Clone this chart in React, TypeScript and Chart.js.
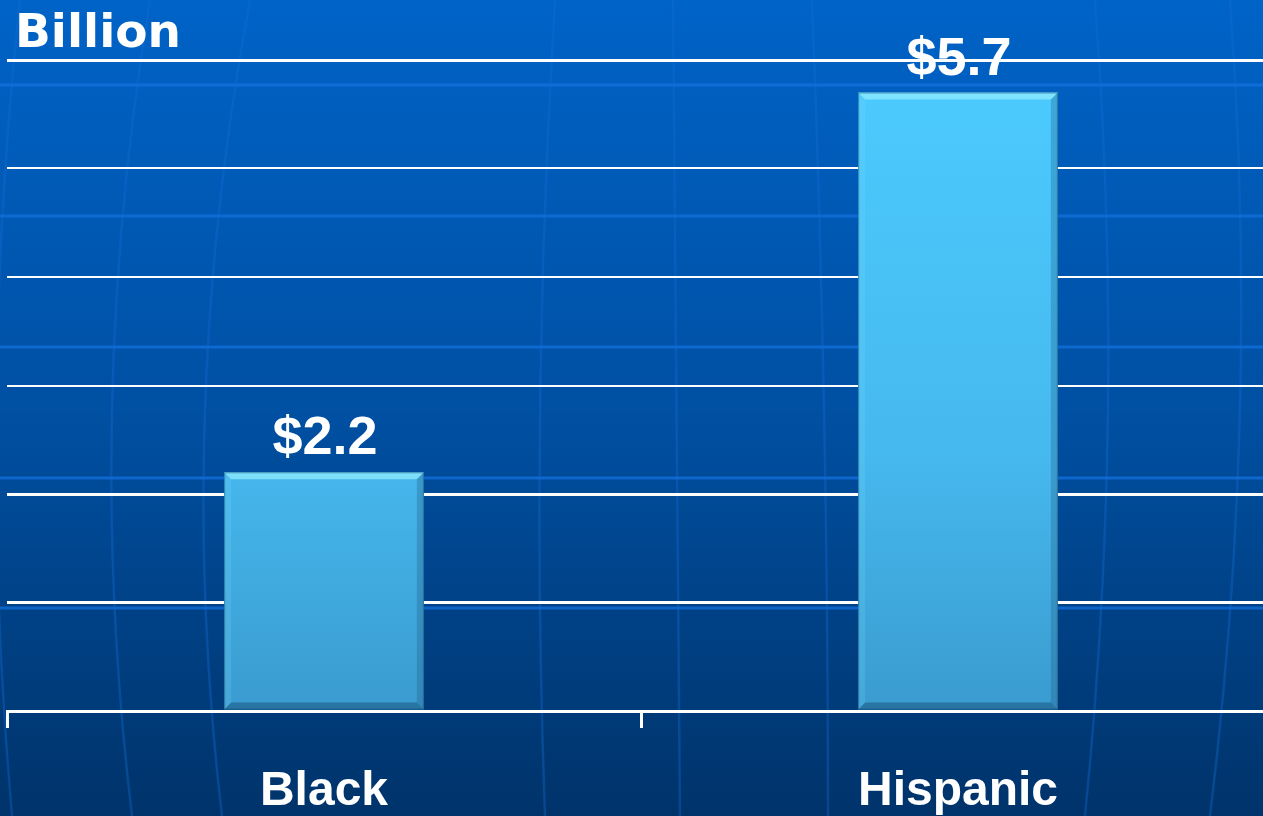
import React, { useEffect, useRef } from "react";
import { Chart, registerables } from "chart.js";

Chart.register(...registerables);

const categories = ["Black", "Hispanic"];
const values = [2.2, 5.7];
const valueLabels = ["$2.2", "$5.7"];
const yMin = 0;
const yMax = 6;
const yStep = 1;
const unitLabel = "Billion";

const W = 1290;
const H = 816;

const backgroundPlugin = {
  id: "globeBackground",
  beforeDraw(chart: any) {
    const { ctx, width, height } = chart;
    ctx.save();
    const g = ctx.createLinearGradient(0, 0, 0, height);
    g.addColorStop(0, "#0063C7");
    g.addColorStop(0.5, "#0050A3");
    g.addColorStop(1, "#00336A");
    ctx.fillStyle = g;
    ctx.fillRect(0, 0, width, height);
    // faint globe latitudes
    ctx.strokeStyle = "rgba(20,115,225,0.7)";
    ctx.lineWidth = 3;
    [85, 216, 347, 478, 608].forEach((y) => {
      ctx.beginPath();
      ctx.moveTo(0, y);
      ctx.lineTo(width, y);
      ctx.stroke();
    });
    // faint globe meridians
    ctx.strokeStyle = "rgba(20,110,215,0.35)";
    ctx.lineWidth = 2.5;
    const meridians = [
      [20, -4, 12],
      [150, 112, 132],
      [250, 205, 222],
      [555, 540, 545],
      [673, 676, 680],
      [812, 824, 828],
      [1095, 1108, 1085],
      [1230, 1240, 1210],
    ];
    meridians.forEach(([a, b, c]) => {
      ctx.beginPath();
      ctx.moveTo(a, 0);
      ctx.quadraticCurveTo(b * 2 - (a + c) / 2, height / 2, c, height);
      ctx.stroke();
    });
    ctx.restore();
  },
};

const bevelPlugin = {
  id: "barBevel",
  afterDatasetsDraw(chart: any) {
    const { ctx } = chart;
    const meta = chart.getDatasetMeta(0);
    ctx.save();
    meta.data.forEach((el: any) => {
      const l = el.x - el.width / 2;
      const r = el.x + el.width / 2;
      const t = el.y;
      const b = el.base;
      const s = 7;
      ctx.fillStyle = "rgba(150,240,255,0.7)";
      ctx.beginPath();
      ctx.moveTo(l, t);
      ctx.lineTo(r, t);
      ctx.lineTo(r - s, t + s);
      ctx.lineTo(l + s, t + s);
      ctx.closePath();
      ctx.fill();
      ctx.fillStyle = "rgba(30,90,130,0.3)";
      ctx.beginPath();
      ctx.moveTo(r, t);
      ctx.lineTo(r, b);
      ctx.lineTo(r - s, b - s);
      ctx.lineTo(r - s, t + s);
      ctx.closePath();
      ctx.fill();
      ctx.fillStyle = "rgba(20,70,110,0.45)";
      ctx.beginPath();
      ctx.moveTo(l, b);
      ctx.lineTo(r, b);
      ctx.lineTo(r - s, b - s);
      ctx.lineTo(l + s, b - s);
      ctx.closePath();
      ctx.fill();
      ctx.fillStyle = "rgba(120,220,255,0.2)";
      ctx.beginPath();
      ctx.moveTo(l, t);
      ctx.lineTo(l + s, t + s);
      ctx.lineTo(l + s, b - s);
      ctx.lineTo(l, b);
      ctx.closePath();
      ctx.fill();
      ctx.strokeStyle = "rgba(30,80,120,0.5)";
      ctx.lineWidth = 1;
      ctx.strokeRect(l + 0.5, t + 0.5, r - l - 1, b - t - 1);
    });
    ctx.restore();
  },
};

const labelPlugin = {
  id: "valueLabels",
  afterDatasetsDraw(chart: any) {
    const { ctx } = chart;
    const meta = chart.getDatasetMeta(0);
    ctx.save();
    ctx.fillStyle = "#FFFFFF";
    ctx.font = "bold 54px 'Liberation Sans'";
    ctx.textAlign = "center";
    ctx.textBaseline = "alphabetic";
    meta.data.forEach((el: any, i: number) => {
      ctx.fillText(valueLabels[i], el.x + 1, el.y - 18);
    });
    ctx.font = "bold 47px 'DejaVu Sans'";
    ctx.textAlign = "left";
    ctx.fillText(unitLabel, 15, 47);
    ctx.restore();
  },
};

export default function App() {
  const ref = useRef<HTMLCanvasElement | null>(null);
  useEffect(() => {
    if (!ref.current) return;
    const chart = new Chart(ref.current, {
      type: "bar",
      data: {
        labels: categories,
        datasets: [
          {
            data: values,
            backgroundColor: (c: any) => {
              const area = c.chart.chartArea;
              if (!area) return "#45BAF0";
              const g = c.chart.ctx.createLinearGradient(0, area.top, 0, area.bottom);
              g.addColorStop(0, "#4CCBFF");
              g.addColorStop(0.6, "#46B9EE");
              g.addColorStop(1, "#3A9BCF");
              return g;
            },
            borderWidth: 0,
            barPercentage: 1,
            categoryPercentage: 0.315,
          },
        ],
      },
      options: {
        responsive: false,
        animation: false,
        layout: { padding: { top: 60, left: 7, right: 15, bottom: 0 } },
        plugins: { legend: { display: false }, tooltip: { enabled: false }, title: { display: false } },
        scales: {
          x: {
            offset: true,
            grid: {
              offset: true,
              drawOnChartArea: false,
              drawTicks: true,
              tickLength: 17,
              color: "#FFFFFF",
              lineWidth: 3,
            },
            border: { display: true, color: "#FFFFFF", width: 3 },
            ticks: {
              color: "#FFFFFF",
              font: { family: "'Liberation Sans'", size: 48, weight: "bold" },
              padding: 35,
            },
            afterFit(scale: any) {
              scale.height = 105;
            },
          },
          y: {
            min: yMin,
            max: yMax,
            ticks: { display: false, stepSize: yStep },
            grid: {
              color: "#FFFFFF",
              lineWidth: (c: any) => (c.tick && (c.tick.value <= 2 || c.tick.value >= 6) ? 3 : 2),
              drawTicks: false,
            },
            border: { display: false },
            afterFit(scale: any) {
              scale.width = 0;
            },
          },
        },
      },
      plugins: [backgroundPlugin, bevelPlugin, labelPlugin],
    } as any);
    return () => chart.destroy();
  }, []);
  return (
    <div style={{ position: "fixed", left: 0, top: 0, width: 1263, height: 816, overflow: "hidden" }}>
      <canvas ref={ref} width={W} height={H} style={{ width: W, height: H, display: "block" }} />
    </div>
  );
}
